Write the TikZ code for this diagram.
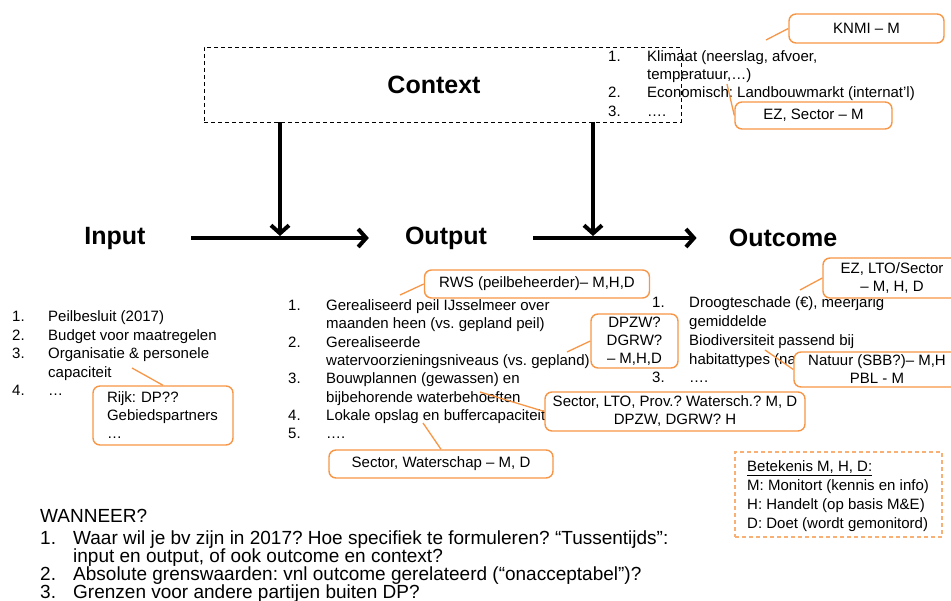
\documentclass[tikz,border=0pt]{standalone}
\usepackage{fontspec}
\setmainfont{Liberation Sans}
\usetikzlibrary{arrows.meta,calc}
\definecolor{callout}{HTML}{F79646}
\frenchspacing

\begin{document}
\begin{tikzpicture}[x=1pt,y=-1pt,
  every node/.style={inner sep=0pt, text=black},
  txt/.style={anchor=west, font=\fontsize{15}{18}\selectfont, text height=11pt, text depth=0pt},
  heading/.style={font=\fontsize{25}{30}\selectfont\bfseries},
  flow/.style={line width=4pt, -{Straight Barb[length=8pt,width=18pt]}},
  note/.style={draw=callout, line width=1.4pt, rounded corners=7pt, fill=white, align=center,
    font=\fontsize{15}{18}\selectfont},
  lead/.style={draw=callout, line width=1.3pt},
  ask/.style={anchor=west, font=\fontsize{19}{22}\selectfont, text height=13.6pt, text depth=0pt}]

\useasboundingbox (0,0) rectangle (951,601);

% ---- context frame -------------------------------------------------------
\node[draw, line width=0.9pt, dash pattern=on 4pt off 3pt,
      minimum width=477pt, minimum height=75pt] (ctx) at (442.5,84.5) {};
\node[heading] (ctxlabel) at (434,85) {Context};

\node[txt] (c1n) at (608,56) {1.};
\node[txt] (c1)  at (647,56) {Klimaat (neerslag, afvoer,};
\node[txt] (c1b) at (647,74) {temperatuur,…)};
\node[txt] (c2n) at (608,92) {2.};
\node[txt] (c2)  at (647,92) {Economisch: Landbouwmarkt (internat’l)};
\node[txt] (c3n) at (608,111) {3.};
\node[txt] (c3)  at (647,111) {….};

% ---- chain ---------------------------------------------------------------
\node[heading] (inp)  at (115,238) {Input};
\node[heading] (outp) at (446,238) {Output};
\node[heading] (outc) at (783,238) {Outcome};

\coordinate (j1) at (280,238);
\coordinate (j2) at (593,238);
\draw[flow, shorten <=45.5pt, shorten >=36pt] (inp) -- (outp);
\draw[flow, shorten <=46pt, shorten >=32pt] (outp) -- (outc);
\draw[flow, shorten >=2pt] (ctx.south -| j1) -- (j1);
\draw[flow, shorten >=2pt] (ctx.south -| j2) -- (j2);

% ---- input items ---------------------------------------------------------
\node[txt] (i1n) at (12,316) {1.};
\node[txt] (i1)  at (48,316) {Peilbesluit (2017)};
\node[txt] (i2n) at (12,335) {2.};
\node[txt] (i2)  at (48,335) {Budget voor maatregelen};
\node[txt] (i3n) at (12,353) {3.};
\node[txt] (i3)  at (48,353) {Organisatie \& personele};
\node[txt] (i3b) at (48,372) {capaciteit};
\node[txt] (i4n) at (12,390) {4.};
\node[txt] (i4)  at (48,390) {…};

% ---- output items --------------------------------------------------------
\node[txt] (o1n) at (288,305) {1.};
\node[txt] (o1)  at (326,305) {Gerealiseerd peil IJsselmeer over};
\node[txt] (o1b) at (326,323) {maanden heen (vs. gepland peil)};
\node[txt] (o2n) at (288,342) {2.};
\node[txt] (o2)  at (326,342) {Gerealiseerde};
\node[txt] (o2b) at (326,360) {watervoorzieningsniveaus (vs. gepland)};
\node[txt] (o3n) at (288,378) {3.};
\node[txt] (o3)  at (326,378) {Bouwplannen (gewassen) en};
\node[txt] (o3b) at (326,397) {bijbehorende waterbehoeften};
\node[txt] (o4n) at (288,415) {4.};
\node[txt] (o4)  at (326,415) {Lokale opslag en buffercapaciteit};
\node[txt] (o5n) at (288,433) {5.};
\node[txt] (o5)  at (326,433) {….};

% ---- outcome items -------------------------------------------------------
\node[txt] (u1n) at (652,302) {1.};
\node[txt] (u1)  at (689,302) {Droogteschade (€), meerjarig};
\node[txt] (u1b) at (689,321) {gemiddelde};
\node[txt] (u2)  at (689,340) {Biodiversiteit passend bij};
\node[txt] (u2b) at (689,359) {habitattypes (na};
\node[txt] (u3n) at (652,377) {3.};
\node[txt] (u3)  at (689,377) {….};

% ---- responsibility callouts ---------------------------------------------
\coordinate (knmiTo) at (766,40);
\coordinate (ezsTo)  at (727,84);
\coordinate (rijkTo) at (132,368);
\coordinate (rwsTo)  at (400,295);
\coordinate (dpzwTo) at (567,352);
\coordinate (ltoTo)  at (480,392);
\coordinate (wsTo)   at (423,423);
\coordinate (ezlTo)  at (800,290);
\coordinate (natTo)  at (765,350);

\node[note, minimum width=155pt, minimum height=29pt] (knmi) at (866.5,28.5) {KNMI – M};
\node[note, minimum width=157pt, minimum height=27pt] (ezs) at (813.5,115.5) {EZ, Sector – M};
\node[note, minimum width=140pt, minimum height=59pt, text width=112pt, align=left] (rijk) at (163,415.5)
  {Rijk: DP??\\Gebiedspartners\\…};
\node[note, minimum width=225pt, minimum height=28pt] (rws) at (537,284) {RWS (peilbeheerder)– M,H,D};
\node[note, minimum width=87pt, minimum height=54pt] (dpzw) at (634.5,341) {DPZW?\\DGRW?\\– M,H,D};
\node[note, minimum width=260pt, minimum height=39pt] (lto) at (675,411.5)
  {Sector, LTO, Prov.? Watersch.? M, D\\DPZW, DGRW? H};
\node[note, minimum width=224pt, minimum height=28pt] (ws) at (441,464) {Sector, Waterschap – M, D};
\node[note, minimum width=138pt, minimum height=40pt] (ezl) at (892,278) {EZ, LTO/Sector\\– M, H, D};
\node[note, minimum width=166pt, minimum height=35pt] (nat) at (877,369.5) {Natuur (SBB?)– M,H\\PBL - M};

\draw[lead] (knmi.west) -- (knmiTo);
\draw[lead] (ezs.west) -- (ezsTo);
\draw[lead] (rijk.north) -- (rijkTo);
\draw[lead] (rws.west) -- (rwsTo);
\draw[lead] (dpzw.west) -- (dpzwTo);
\draw[lead] (lto.west) -- (ltoTo);
\draw[lead] (ws.north) -- (wsTo);
\draw[lead] (ezl.west) -- (ezlTo);
\draw[lead] (nat.west) -- (natTo);

% ---- legend --------------------------------------------------------------
\node[draw=callout!75, line width=1.2pt, dash pattern=on 4pt off 3pt,
      minimum width=207pt, minimum height=85pt] (legend) at (838.5,494.5) {};
\node[txt] (lg0) at (747,466) {\underline{Betekenis M, H, D:}};
\node[txt] (lg1) at (747,485) {M: Monitort (kennis en info)};
\node[txt] (lg2) at (747,504) {H: Handelt (op basis M\&E)};
\node[txt] (lg3) at (747,523) {D: Doet (wordt gemonitord)};

% ---- timing questions ----------------------------------------------------
\node[ask] (when) at (40,516) {WANNEER?};
\node[ask] (q1n) at (40,538) {1.};
\node[ask] (q1)  at (73,538) {Waar wil je bv zijn in 2017? Hoe specifiek te formuleren? “Tussentijds”:};
\node[ask] (q1b) at (73,556) {input en output, of ook outcome en context?};
\node[ask] (q2n) at (40,574) {2.};
\node[ask] (q2)  at (73,574) {Absolute grenswaarden: vnl outcome gerelateerd (“onacceptabel”)?};
\node[ask] (q3n) at (40,592) {3.};
\node[ask] (q3)  at (73,592) {Grenzen voor andere partijen buiten DP?};

\end{tikzpicture}
\end{document}
